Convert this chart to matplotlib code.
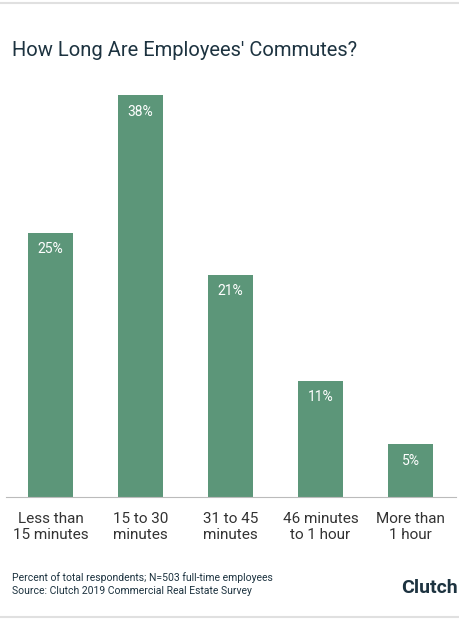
import matplotlib
matplotlib.use("Agg")
import matplotlib.pyplot as plt

categories = ["Less than\n15 minutes", "15 to 30\nminutes", "31 to 45\nminutes", "46 minutes\nto 1 hour", "More than\n1 hour"]
values = [25, 38, 21, 11, 5]

plt.rcParams['font.family'] = ['Roboto', 'DejaVu Sans']
fig = plt.figure(figsize=(4.6, 6.2), dpi=100)
ax = fig.add_axes([5.5/460, 123/620, 450/460, 402/620])
green = "#5c9679"
dark = "#1d3340"
x = range(len(values))
ax.bar(x, values, width=0.5, color=green)
for i, v in zip(x, values):
    ax.text(i, v - 0.9, f"{v}%", ha="center", va="top", color="white", fontsize=10)
ax.set_xlim(-0.5, 4.5)
ax.set_ylim(0, 38)
ax.set_xticks(list(x))
ax.set_xticklabels(categories, fontsize=11, color="#333333", linespacing=1.2)
ax.tick_params(axis="x", length=0, pad=11)
ax.set_yticks([])
for s in ["top", "right", "left"]:
    ax.spines[s].set_visible(False)
ax.spines["bottom"].set_color("#bbbbbb")
ax.spines["bottom"].set_linewidth(0.8)

fig.text(12/460, 1 - 50/620, "How Long Are Employees' Commutes?", fontsize=14.5, color=dark, va="center")
fig.text(12/460, 1 - 578/620, "Percent of total respondents; N=503 full-time employees", fontsize=7.5, color=dark, va="center")
fig.text(12/460, 1 - 591/620, "Source: Clutch 2019 Commercial Real Estate Survey", fontsize=7.5, color=dark, va="center")
fig.text(458/460, 1 - 588/620, "Clutch", fontsize=14, color=dark, ha="right", va="center", fontweight="bold")
fig.add_artist(plt.Line2D([0, 1], [1 - 3/620, 1 - 3/620], color="#e0e0e0", lw=1.5))
fig.add_artist(plt.Line2D([0, 1], [1 - 617/620, 1 - 617/620], color="#e0e0e0", lw=1.5))
fig.savefig("out.png", dpi=100)
